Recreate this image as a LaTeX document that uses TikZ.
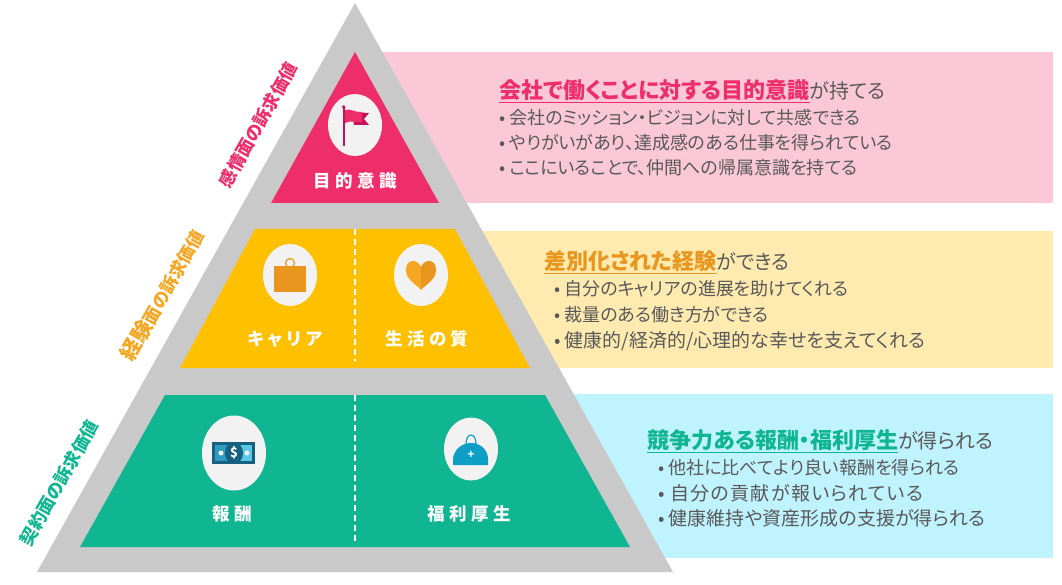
\documentclass[tikz,border=0pt]{standalone}
\usepackage{fontspec}
\setmainfont[RawFeature=+palt]{Noto Sans CJK JP}
\newfontfamily\tierfont[LetterSpace=25,RawFeature=+palt]{Noto Sans CJK JP}
\newfontfamily\wideline[LetterSpace=7,RawFeature=+palt]{Noto Sans CJK JP}
\usepackage{tikz}
\usetikzlibrary{shapes.geometric}
\definecolor{tierGrey}{HTML}{C9C9C9}
\definecolor{roseTier}{HTML}{EE2D6B}
\definecolor{roseBand}{HTML}{FBC8D8}
\definecolor{roseDark}{HTML}{C4115A}
\definecolor{amberTier}{HTML}{FFC000}
\definecolor{amberBand}{HTML}{FFEBB0}
\definecolor{amberText}{HTML}{F5A623}
\definecolor{amberDark}{HTML}{E8961E}
\definecolor{tealTier}{HTML}{10B591}
\definecolor{tealBand}{HTML}{BFF3FF}
\definecolor{iconBack}{HTML}{F2F2F2}
\definecolor{bodyGrey}{HTML}{595959}
\definecolor{moneyDark}{HTML}{17607F}
\definecolor{moneyMid}{HTML}{2F9CC4}
\definecolor{moneyLight}{HTML}{5BC8E8}
\definecolor{medBlue}{HTML}{0E9FC7}
\tikzset{
	sidelabel/.style = {rotate=60.5, font=\bfseries\fontsize{17.5}{18}\selectfont},
	tierlabel/.style = {text=white, font=\tierfont\bfseries\fontsize{17.5}{18}\selectfont},
	headline/.style = {anchor=west, inner sep=0pt, text=bodyGrey, font=\fontsize{20}{22}\selectfont},
	bodyline/.style = {anchor=west, inner sep=0pt, text=bodyGrey, font=\fontsize{18}{20}\selectfont},
	bodylarge/.style = {bodyline, font=\fontsize{19}{20}\selectfont},
	bodywide/.style = {bodyline, font=\wideline\fontsize{19}{20}\selectfont},
	iconback/.style = {ellipse, fill=iconBack, inner sep=0pt, minimum width=54pt, minimum height=62pt},
	splitline/.style = {draw=white, line width=1.2pt, dash pattern=on 6pt off 4pt}
}
\newcommand{\headrose}[1]{{\color{roseTier}\bfseries\fontsize{22}{22}\selectfont\underline{#1}}}
\newcommand{\headamber}[1]{{\color{amberDark}\bfseries\fontsize{22}{22}\selectfont\underline{#1}}}
\newcommand{\headteal}[1]{{\color{tealTier}\bfseries\fontsize{22}{22}\selectfont\underline{#1}}}
\begin{document}
\begin{tikzpicture}[x=1pt,y=-1pt]
	\useasboundingbox (0,0) rectangle (1062,585);
	\fill[roseBand] (360,52) rectangle (1053,203);
	\fill[amberBand] (400,231) rectangle (1053,368);
	\fill[tealBand] (500,394) rectangle (1053,558);
	\fill[tierGrey] (355,3) -- (673,572) -- (37,572) -- cycle;
	\fill[roseTier] (355,52) -- (439,203) -- (271,203) -- cycle;
	\fill[amberTier] (255,229) -- (455,229) -- (530,368) -- (180,368) -- cycle;
	\fill[tealTier] (165,395) -- (545,395) -- (630,547) -- (80,547) -- cycle;
	\coordinate (amberTop) at (355,229);
	\coordinate (amberEnd) at (355,361);
	\coordinate (tealTop) at (355,395);
	\coordinate (tealEnd) at (355,545);
	\draw[splitline] (amberTop) -- (amberEnd);
	\draw[splitline] (tealTop) -- (tealEnd);
	\node[iconback] (flagBack) at (355,125) {};
	\node[iconback] (bagBack) at (290,275) {};
	\node[iconback] (heartBack) at (421,275) {};
	\node[iconback, minimum width=64pt, minimum height=75pt] (moneyBack) at (234,453) {};
	\node[iconback, minimum height=63pt] (medBack) at (471,449) {};
	\fill[roseDark] (352,112) -- (369,113) -- (364,119) -- (369,125) -- (354,125) -- cycle;
	\fill[roseTier] (345,110) .. controls (350,108) and (356,113) .. (362,112) -- (362,122) .. controls (356,123) and (350,120) .. (345,123) -- cycle;
	\fill[roseDark] (343,107) rectangle (344.5,146);
	\fill[roseDark] (343.7,107) circle [radius=1.8];
	\draw[amberDark, line width=1.2pt] (290,263) circle [radius=4.5];
	\fill[amberDark] (274,266) rectangle (306,292);
	\fill[amberText] (421,267) .. controls (418,259) and (406,258) .. (406,270) .. controls (406,280) and (416,284) .. (421,290) -- cycle;
	\fill[amberDark] (421,267) .. controls (424,259) and (436,258) .. (436,270) .. controls (436,280) and (426,284) .. (421,290) -- cycle;
	\fill[moneyDark] (212,442) rectangle (255,464);
	\fill[moneyMid] (215,445) rectangle (252,461);
	\fill[moneyLight] (237,445) rectangle (252,461);
	\fill[moneyDark] (234,453) ellipse [x radius=9, y radius=11];
	\fill[iconBack] (221,453) circle [radius=2.5];
	\fill[iconBack] (247,453) circle [radius=2.5];
	\node[text=white, inner sep=0pt, font=\bfseries\fontsize{13}{14}\selectfont] (moneySign) at (234,453) {\$};
	\draw[medBlue, line width=1.2pt] (466,444) .. controls (466,432) and (476,432) .. (476,444);
	\fill[medBlue] (453,465) -- (453,458) .. controls (455,448) and (463,443) .. (471,443) .. controls (479,443) and (487,448) .. (488,458) -- (488,465) -- cycle;
	\node[text=white, inner sep=0pt, font=\bfseries\fontsize{11}{12}\selectfont] (medPlus) at (471,455) {+};
	\node[tierlabel] (roseLabel) at (355,181) {目的意識};
	\node[tierlabel] (careerLabel) at (285,339) {キャリア};
	\node[tierlabel] (lifeLabel) at (427,339) {生活の質};
	\node[tierlabel] (payLabel) at (232,514) {報酬};
	\node[tierlabel] (welfareLabel) at (469,514) {福利厚生};
	\node[sidelabel, text=roseTier] (roseSide) at (258,125) {感情面の訴求価値};
	\node[sidelabel, text=amberText] (amberSide) at (162,295) {{\fontsize{21}{22}\selectfont 経験}面の訴求価値};
	\node[sidelabel, text=tealTier] (tealSide) at (59,483) {契約面の訴求価値};
	\begin{scope}
		\node[headline] (roseHead) at (499,91) {\headrose{会社で働くことに対する目的意識}が持てる};
		\node[bodyline] (roseA) at (499,118) {• 会社のミッション・ビジョンに対して共感できる};
		\node[bodyline] (roseB) at (499,143) {• やりがいがあり、達成感のある仕事を得られている};
		\node[bodyline] (roseC) at (499,168) {• ここにいることで、仲間への帰属意識を持てる};
	\end{scope}
	\begin{scope}
		\node[headline] (amberHead) at (544,262) {\headamber{差別化された経験}ができる};
		\node[bodyline] (amberA) at (554,289) {• 自分のキャリアの進展を助けてくれる};
		\node[bodyline] (amberB) at (554,315) {• 裁量のある働き方ができる};
		\node[bodylarge] (amberC) at (554,341) {• 健康的/経済的/心理的な幸せを支えてくれる};
	\end{scope}
	\begin{scope}
		\node[headline] (tealHead) at (647,441) {\headteal{競争力ある報酬・福利厚生}が得られる};
		\node[bodyline] (tealA) at (658,468) {• 他社に比べてより良い報酬を得られる};
		\node[bodywide] (tealB) at (658,493) {• 自分の貢献が報いられている};
		\node[bodylarge] (tealC) at (658,518) {• 健康維持や資産形成の支援が得られる};
	\end{scope}
\end{tikzpicture}
\end{document}
